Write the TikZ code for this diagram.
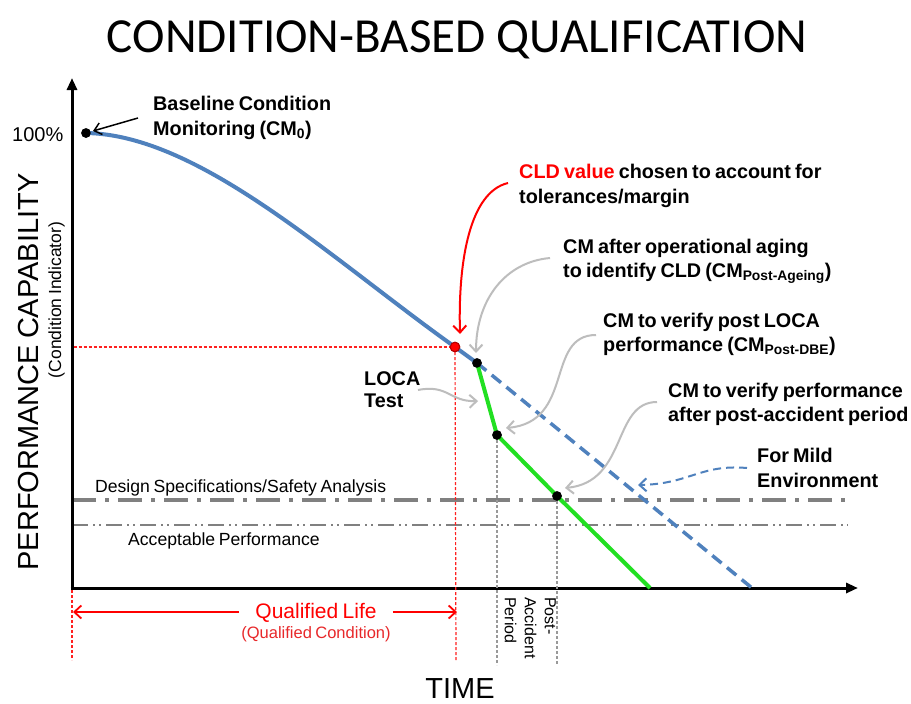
\documentclass[tikz,border=0pt]{standalone}
\usepackage{fontspec}
\setmainfont[WordSpace=0.75]{Liberation Sans}
\newfontfamily\titlefont{Carlito}
\usetikzlibrary{arrows.meta}
\definecolor{cblue}{HTML}{4F81BD}
\definecolor{cgreen}{HTML}{22E022}
\definecolor{cgray}{HTML}{808080}
\definecolor{agray}{HTML}{BDBDBD}
\definecolor{qred}{HTML}{E8282A}
\definecolor{dred}{HTML}{FF2020}
\begin{document}
\begin{tikzpicture}[x=1pt,y=-1pt,
  lab/.style={font=\bfseries\fontsize{19.8}{23}\selectfont, anchor=base west, inner sep=0pt},
  reg/.style={font=\fontsize{17.6}{20}\selectfont, anchor=base west, inner sep=0pt},
  blackdot/.style={circle, fill=black, inner sep=0pt, minimum size=9.5pt},
  reddot/.style={circle, fill=red, draw=red!70!black, line width=1pt, inner sep=0pt, minimum size=9.5pt},
  annot/.style={agray, line width=2pt, -{Straight Barb[length=7pt,width=13pt,line width=2pt]}},
  axisline/.style={line width=3pt, -{Triangle[length=12pt,width=10pt]}},
  bluecurve/.style={cblue, line width=4pt},
  greenline/.style={cgreen, line width=4pt, line join=round},
  reddots/.style={draw=dred, line width=1.2pt, dash pattern=on 3pt off 2pt},
  graydots/.style={draw=cgray!80, line width=1.2pt, dash pattern=on 3pt off 2pt},
  designline/.style={cgray, line width=3.5pt, dash pattern=on 24pt off 9pt on 4pt off 9pt},
  acceptline/.style={cgray, line width=2pt, dash pattern=on 16pt off 5pt on 2pt off 4pt on 2pt off 5pt}
]
\useasboundingbox[fill=white] (0,0) rectangle (911,704);

% title
\node[font=\titlefont\fontsize{49}{55}\selectfont, anchor=base, inner sep=0pt] (title) at (457,52) {CONDITION-BASED QUALIFICATION};

% axis labels
\node[rotate=90, anchor=base, inner sep=0pt, font=\fontsize{29}{33}\selectfont] (ylab) at (38,372) {PERFORMANCE CAPABILITY};
\node[rotate=90, anchor=base, inner sep=0pt, font=\fontsize{17.5}{20}\selectfont] (ylab2) at (61,300) {(Condition Indicator)};
\node[font=\fontsize{29}{33}\selectfont, anchor=base, inner sep=0pt] (time) at (460,698) {TIME};
\node[font=\fontsize{20}{23}\selectfont, anchor=base west, inner sep=0pt] (pct) at (12,141) {100\%};

% reference lines
\coordinate (dsl) at (72,500);
\coordinate (dsr) at (848,500);
\coordinate (apl) at (72,525);
\coordinate (apr) at (848,525);
\draw[designline] (dsl) -- (dsr);
\draw[acceptline] (apl) -- (apr);
\node[reg] (dslab) at (95,492) {Design Specifications/Safety Analysis};
\node[reg] (aplab) at (128,545) {Acceptable Performance};

% axes
\coordinate (ytop) at (72,78);
\coordinate (xend) at (858,588);
\coordinate (ybot) at (72,590);
\coordinate (xbeg) at (70.5,588);
\draw[axisline] (ybot) -- (ytop);
\draw[axisline] (xbeg) -- (xend);

% points
\node[blackdot] (d0) at (86,133) {};
\node[reddot] (dR) at (455,347) {};
\node[blackdot] (dA) at (477,363) {};
\node[blackdot] (dB) at (497,435) {};
\node[blackdot] (dC) at (557,496) {};
\coordinate (gEnd) at (650,588);
\coordinate (bEnd) at (752,588);

% dotted guide lines
\coordinate (rl0) at (73.5,347);
\coordinate (rlb) at (456,660);
\coordinate (yl0) at (72,590);
\coordinate (ylb) at (72,660);
\coordinate (gbB) at (497,665);
\coordinate (gbC) at (557,665);
\draw[reddots] (rl0) -- (dR.center);
\draw[reddots] (dR.center) -- (rlb);
\draw[reddots] (yl0) -- (ylb);
\draw[graydots] (dB.center) -- (gbB);
\draw[graydots] (dC.center) -- (gbC);

% curves
\draw[bluecurve] (d0.center) .. controls (200,135) and (330,258) .. (dR.center) -- (dA.center);
\draw[cblue, line width=3.5pt, dash pattern=on 12pt off 7pt] (dA.center) -- (bEnd);
\draw[greenline] (dA.center) -- (dB.center) -- (dC.center) -- (gEnd);

% redraw dots on top
\node[blackdot] at (d0) {};
\node[reddot] at (dR) {};
\node[blackdot] at (dA) {};
\node[blackdot] at (dB) {};
\node[blackdot] at (dC) {};

% labels
\node[lab] (bc1) at (153,110) {Baseline Condition};
\node[lab] (bc2) at (153,135) {Monitoring (CM\textsubscript{0})};
\node[lab] (cld1) at (519,178) {\textcolor{red}{CLD value} chosen to account for};
\node[lab] (cld2) at (519,203) {tolerances/margin};
\node[lab] (ag1) at (563,253) {CM after operational aging};
\node[lab] (ag2) at (563,277) {to identify CLD (CM\textsubscript{Post-Ageing})};
\node[lab] (lo1) at (603,327) {CM to verify post LOCA};
\node[lab] (lo2) at (603,351) {performance (CM\textsubscript{Post-DBE})};
\node[lab] (pa1) at (668,397) {CM to verify performance};
\node[lab] (pa2) at (668,421) {after post-accident period};
\node[lab] (mi1) at (757,462) {For Mild};
\node[lab] (mi2) at (757,487) {Environment};
\node[lab] (lt1) at (364,385) {LOCA};
\node[lab] (lt2) at (364,407) {Test};

% annotation arrows
\coordinate (sBC) at (138,118);
\coordinate (eBC) at (93,131);
\draw[black, line width=1.5pt, -{Straight Barb[length=7pt,width=12pt,line width=1.5pt]}] (sBC) -- (eBC);
\coordinate (sCLD) at (508,183);
\coordinate (eCLD) at (460,334);
\draw[red, line width=2pt, -{Straight Barb[length=7pt,width=13pt,line width=2pt]}] (sCLD) .. controls (470,192) and (458,260) .. (eCLD);
\coordinate (sAG) at (550,258);
\coordinate (eAG) at (476,353);
\draw[annot] (sAG) .. controls (505,262) and (476,300) .. (eAG);
\coordinate (sLO) at (596,335);
\coordinate (eLO) at (506,428);
\draw[annot] (sLO) .. controls (545,335) and (575,422) .. (eLO);
\coordinate (sPA) at (657,402);
\coordinate (ePA) at (565,488);
\draw[annot] (sPA) .. controls (612,402) and (628,482) .. (ePA);
\coordinate (sLT) at (418,390);
\coordinate (eLT) at (478,401);
\draw[annot] (sLT) .. controls (448,384) and (450,402) .. (eLT);
\coordinate (sMI) at (747,468);
\coordinate (eMI) at (638,485);
\draw[cblue, line width=2pt, dash pattern=on 8pt off 5pt, -{Straight Barb[length=7pt,width=13pt,line width=2pt]}] (sMI) .. controls (700,464) and (690,484) .. (eMI);

% qualified life
\coordinate (qlL) at (73,612);
\coordinate (qlR) at (457,612);
\node[font=\fontsize{21}{24}\selectfont, text=red, anchor=base, inner sep=0pt] (ql) at (316,618) {Qualified Life};
\node[font=\fontsize{16.5}{18}\selectfont, text=qred, anchor=base, inner sep=0pt] (qc) at (316,638) {(Qualified Condition)};
\draw[red, line width=1.8pt, -{Straight Barb[length=7pt,width=13pt,line width=1.8pt]}] ([xshift=-16pt]ql.west |- qlL) -- (qlL);
\draw[red, line width=1.8pt, -{Straight Barb[length=7pt,width=13pt,line width=1.8pt]}] ([xshift=16pt]ql.east |- qlR) -- (qlR);

% post-accident period
\node[rotate=-90, anchor=north west, align=left, inner sep=0pt, font=\fontsize{16}{20}\selectfont] (pap) at (556,597) {Post-\\Accident\\Period};
\end{tikzpicture}
\end{document}
